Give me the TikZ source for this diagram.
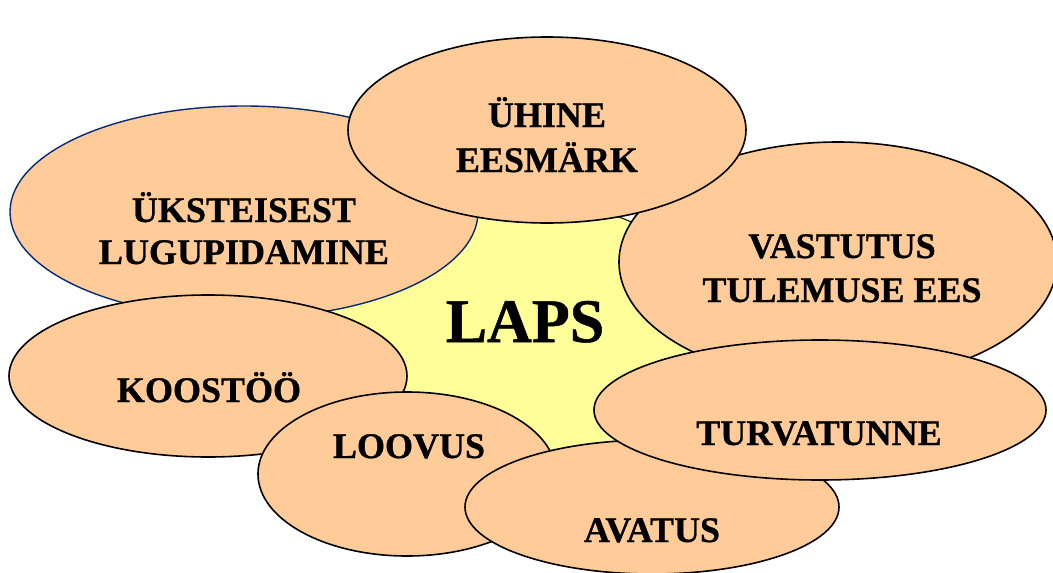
\documentclass[tikz,border=0pt]{standalone}
\usepackage{fontspec}
\setmainfont{Liberation Serif}[BoldFeatures={FakeBold=0.8}]
\definecolor{petal}{HTML}{FFCC99}
\definecolor{core}{HTML}{FFFF99}
\definecolor{navy}{HTML}{0A2A6E}
\tikzset{
  petal/.style={fill=petal, draw=black, line width=1.6pt},
  bluepetal/.style={fill=petal, draw=navy, line width=1.4pt},
  corearea/.style={fill=core, draw=black, line width=1pt},
  lbl/.style={anchor=base, inner sep=0pt, font=\fontsize{36}{43}\selectfont\bfseries},
  biglbl/.style={anchor=base, inner sep=0pt, font=\fontsize{62}{70}\selectfont\bfseries}
}
\begin{document}
\begin{tikzpicture}[x=1pt,y=-1pt]
\useasboundingbox (0,0) rectangle (1053,573);
% centre
\draw[corearea] (520,330) ellipse [x radius=200, y radius=130];
% petals, back to front
\draw[bluepetal] (244,212) ellipse [x radius=234, y radius=106];
\draw[petal] (838,262) ellipse [x radius=219, y radius=120];
\draw[petal] (547,130) ellipse [x radius=199, y radius=93];
\draw[petal] (208,376) ellipse [x radius=199, y radius=81];
\draw[petal] (407,474) ellipse [x radius=149, y radius=82];
\draw[petal] (652,507) ellipse [x radius=187, y radius=67];
\draw[petal] (820,410) ellipse [x radius=226, y radius=70];
% labels
\node[biglbl] (laps) at (525,342) {LAPS};
\node[lbl] (uksA) at (244,222) {ÜKSTEISEST};
\node[lbl] (uksB) at (244,264) {LUGUPIDAMINE};
\node[lbl] (uhiA) at (547,127) {ÜHINE};
\node[lbl] (uhiB) at (547,172) {EESMÄRK};
\node[lbl] (vasA) at (842,258) {VASTUTUS};
\node[lbl] (vasB) at (842,302) {TULEMUSE EES};
\node[lbl] (koo) at (209,402) {KOOSTÖÖ};
\node[lbl] (loo) at (409,458) {LOOVUS};
\node[lbl] (tur) at (819,445) {TURVATUNNE};
\node[lbl] (ava) at (652,542) {AVATUS};
\end{tikzpicture}
\end{document}
